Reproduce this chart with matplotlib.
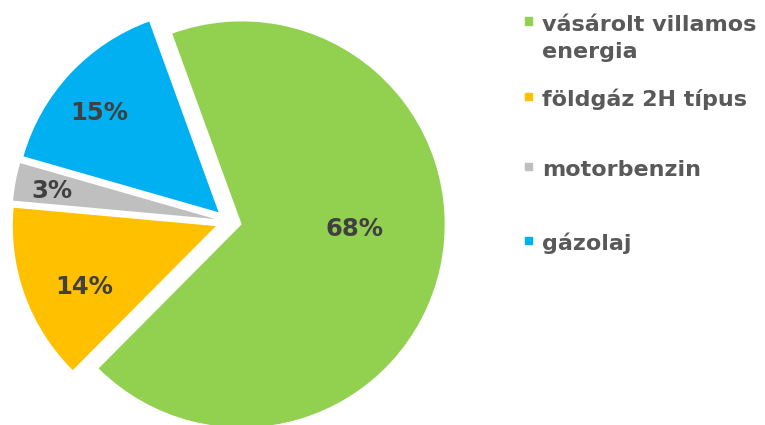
import numpy as np
import matplotlib
matplotlib.use("Agg")
import matplotlib.pyplot as plt
from matplotlib.patches import Rectangle

categories = ["vásárolt villamos\nenergia", "földgáz 2H típus", "motorbenzin", "gázolaj"]
values = [68, 14, 3, 15]
colors = ["#92D050", "#FFC000", "#BFBFBF", "#00B0F0"]

# label placement (fraction of radius, angular nudge in degrees)
label_dist = [0.554, 0.712, 0.817, 0.77]
label_nudge = [10.9, 4.2, 0.3, 2.9]

plt.rcParams['font.family'] = ['DejaVu Sans']

W, H = 765, 425
fig = plt.figure(figsize=(W / 100, H / 100), dpi=100)
ax = fig.add_axes([0, 0, 1, 1])

cx, cy, R = 228.5, 203.5, 203
expl = 13.5
wedges, _ = ax.pie(values, colors=colors, startangle=110, counterclock=False,
                   explode=[expl] * len(values), center=(cx, cy), radius=R,
                   wedgeprops=dict(linewidth=0), frame=True)
ax.set_xlim(0, W)
ax.set_ylim(0, H)
ax.set_aspect('equal')
ax.axis('off')

total = sum(values)
for w, v, d, n in zip(wedges, values, label_dist, label_nudge):
    th = np.deg2rad((w.theta1 + w.theta2) / 2 + n)
    wx, wy = w.center
    ax.text(wx + d * R * np.cos(th), wy + d * R * np.sin(th) - 1.5, f"{round(v / total * 100)}%",
            ha='center', va='center', fontsize=17.5, fontweight='bold', color='#404040')

# legend (first-line baselines in pixels from top)
leg_base = [31, 106, 176, 250]
line_px = 27
for lab, col, y in zip(categories, colors, leg_base):
    fig.patches.append(Rectangle((525 / W, 1 - (y - 10 + 3.5) / H), 7 / W, 7 / H,
                                 transform=fig.transFigure, color=col, figure=fig))
    n_extra = lab.count('\n')
    fig.text(542 / W, 1 - (y + n_extra * line_px) / H, lab, ha='left', va='baseline',
             fontsize=16, fontweight='bold', color='#595959', linespacing=1.45)

fig.savefig("out.png", dpi=100)
